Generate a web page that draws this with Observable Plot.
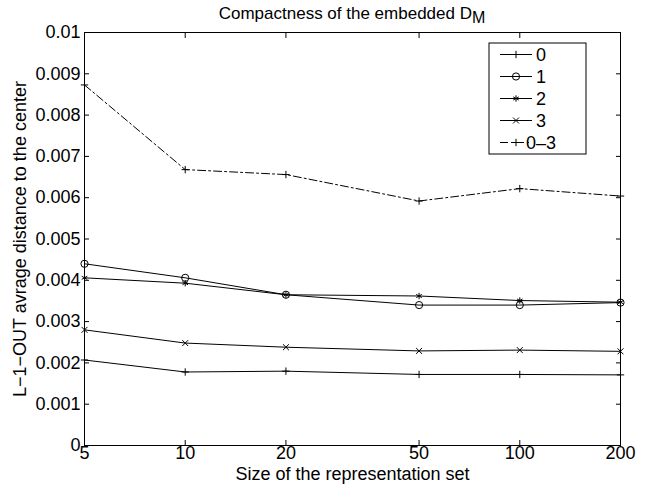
<!DOCTYPE html>
<html>
<head>
<meta charset="utf-8">
<script src="https://cdn.jsdelivr.net/npm/d3@7"></script>
<script src="https://cdn.jsdelivr.net/npm/@observablehq/plot@0.6"></script>
<style>
  html, body { margin: 0; padding: 0; background: white; }
  #chart svg { display: block; }
</style>
</head>
<body>
<div id="chart"></div>
<script>
// ---- data ----
const sizes = [5, 10, 20, 50, 100, 200];
const seriesNames = ["0", "1", "2", "3", "0–3"];
const series0 = [0.00207, 0.00178, 0.00180, 0.00172, 0.00172, 0.00171];
const series1 = [0.00440, 0.00406, 0.00365, 0.00340, 0.00340, 0.00346];
const series2 = [0.00406, 0.00393, 0.00365, 0.00362, 0.00351, 0.00347];
const series3 = [0.00280, 0.00248, 0.00238, 0.00229, 0.00231, 0.00228];
const series03 = [0.00873, 0.00668, 0.00656, 0.00592, 0.00622, 0.00604];
const xTicks = [5, 10, 20, 50, 100, 200];
const xTickLabels = ["5", "10", "20", "50", "100", "200"];
const yTicks = [0, 0.001, 0.002, 0.003, 0.004, 0.005, 0.006, 0.007, 0.008, 0.009, 0.01];
const yTickLabels = ["0", "0.001", "0.002", "0.003", "0.004", "0.005", "0.006", "0.007", "0.008", "0.009", "0.01"];
const titleMain = "Compactness of the embedded D";
const titleSub = "M";
const xLabel = "Size of the representation set";
const yLabel = "L−1−OUT avrage distance to the center";

const allSeries = [series0, series1, series2, series3, series03];
const rows = [];
allSeries.forEach((vals, si) => vals.forEach((v, i) => rows.push({series: seriesNames[si], size: sizes[i], value: v})));

const symbols = ["plus", "circle", "asterisk", "times", "plus"];
const symbolR = [2.5, 3.6, 3.0, 2.8, 2.5];
const font = "'Liberation Sans', Arial, Helvetica, sans-serif";

const solid = rows.filter(d => d.series !== "0–3");
const dashed = rows.filter(d => d.series === "0–3");

const dotMarks = seriesNames.map((name, si) =>
  Plot.dot(rows.filter(d => d.series === name), {
    x: "size", y: "value", symbol: () => symbols[si], stroke: "black", fill: "none", r: symbolR[si], strokeWidth: 1
  })
);

const svg = Plot.plot({
  width: 647,
  height: 490,
  marginLeft: 84,
  marginRight: 27,
  marginTop: 32,
  marginBottom: 45,
  x: {type: "log", domain: [5, 200]},
  y: {domain: [0, 0.01]},
  symbol: {type: "identity"},
  style: {fontFamily: font, fontSize: "18px", background: "white", color: "black"},
  marks: [
    Plot.axisX({anchor: "bottom", ticks: xTicks, tickSize: -5, tickFormat: () => "", label: null}),
    Plot.axisX({anchor: "top", ticks: xTicks, tickSize: -5, tickFormat: () => "", label: null}),
    Plot.axisY({anchor: "left", ticks: yTicks, tickSize: -5, tickFormat: () => "", label: null}),
    Plot.axisY({anchor: "right", ticks: yTicks, tickSize: -5, tickFormat: () => "", label: null}),
    Plot.axisX({anchor: "bottom", ticks: xTicks, tickSize: 0, tickPadding: 1, tickFormat: d => xTickLabels[xTicks.indexOf(d)], label: null, fontSize: 18}),
    Plot.axisY({anchor: "left", ticks: yTicks, tickSize: 0, tickPadding: 4, tickFormat: d => yTickLabels[yTicks.indexOf(d)], label: null, fontSize: 18}),
    Plot.line(solid, {x: "size", y: "value", z: "series", stroke: "black", strokeWidth: 1}),
    Plot.line(dashed, {x: "size", y: "value", stroke: "black", strokeWidth: 1, strokeDasharray: "8,3,2,3"}),
    ...dotMarks,
    Plot.frame({stroke: "black", strokeWidth: 1}),
    Plot.text([xLabel], {frameAnchor: "bottom", dy: 29, lineAnchor: "middle", textAnchor: "middle", text: d => d, fontSize: 18}),
    Plot.text([yLabel], {frameAnchor: "left", dx: -64, rotate: -90, lineAnchor: "middle", textAnchor: "middle", text: d => d, fontSize: 18})
  ]
});

// title with subscript
const s = d3.select(svg);
const t = s.append("text")
  .attr("x", 352).attr("y", 19)
  .attr("text-anchor", "middle")
  .attr("font-family", font).attr("font-size", 17).attr("fill", "black");
t.append("tspan").text(titleMain);
t.append("tspan").attr("dy", 4).attr("font-size", 16).text(titleSub);

// legend
const lg = s.append("g").attr("font-family", font).attr("font-size", 18);
const lx = 489, ly = 43, lw = 97, lh = 111;
lg.append("rect").attr("x", lx).attr("y", ly).attr("width", lw).attr("height", lh)
  .attr("fill", "white").attr("stroke", "black").attr("stroke-width", 1);
const symMap = {plus: d3.symbolPlus, circle: d3.symbolCircle, asterisk: d3.symbolAsterisk, times: d3.symbolTimes};
seriesNames.forEach((name, i) => {
  const cy = 54.5 + i * 22;
  lg.append("line").attr("x1", 500).attr("x2", 532).attr("y1", cy).attr("y2", cy)
    .attr("stroke", "black").attr("stroke-width", 1)
    .attr("stroke-dasharray", i === 4 ? "8,3,2,3" : null);
  const r = symbolR[i];
  lg.append("path").attr("transform", `translate(516,${cy})`)
    .attr("d", d3.symbol(symMap[symbols[i]], Math.PI * r * r)())
    .attr("fill", "none").attr("stroke", "black").attr("stroke-width", 1);
  lg.append("text").attr("x", 541).attr("y", cy).attr("dy", "0.35em").text(name);
});

document.getElementById("chart").appendChild(svg);
</script>
</body>
</html>
